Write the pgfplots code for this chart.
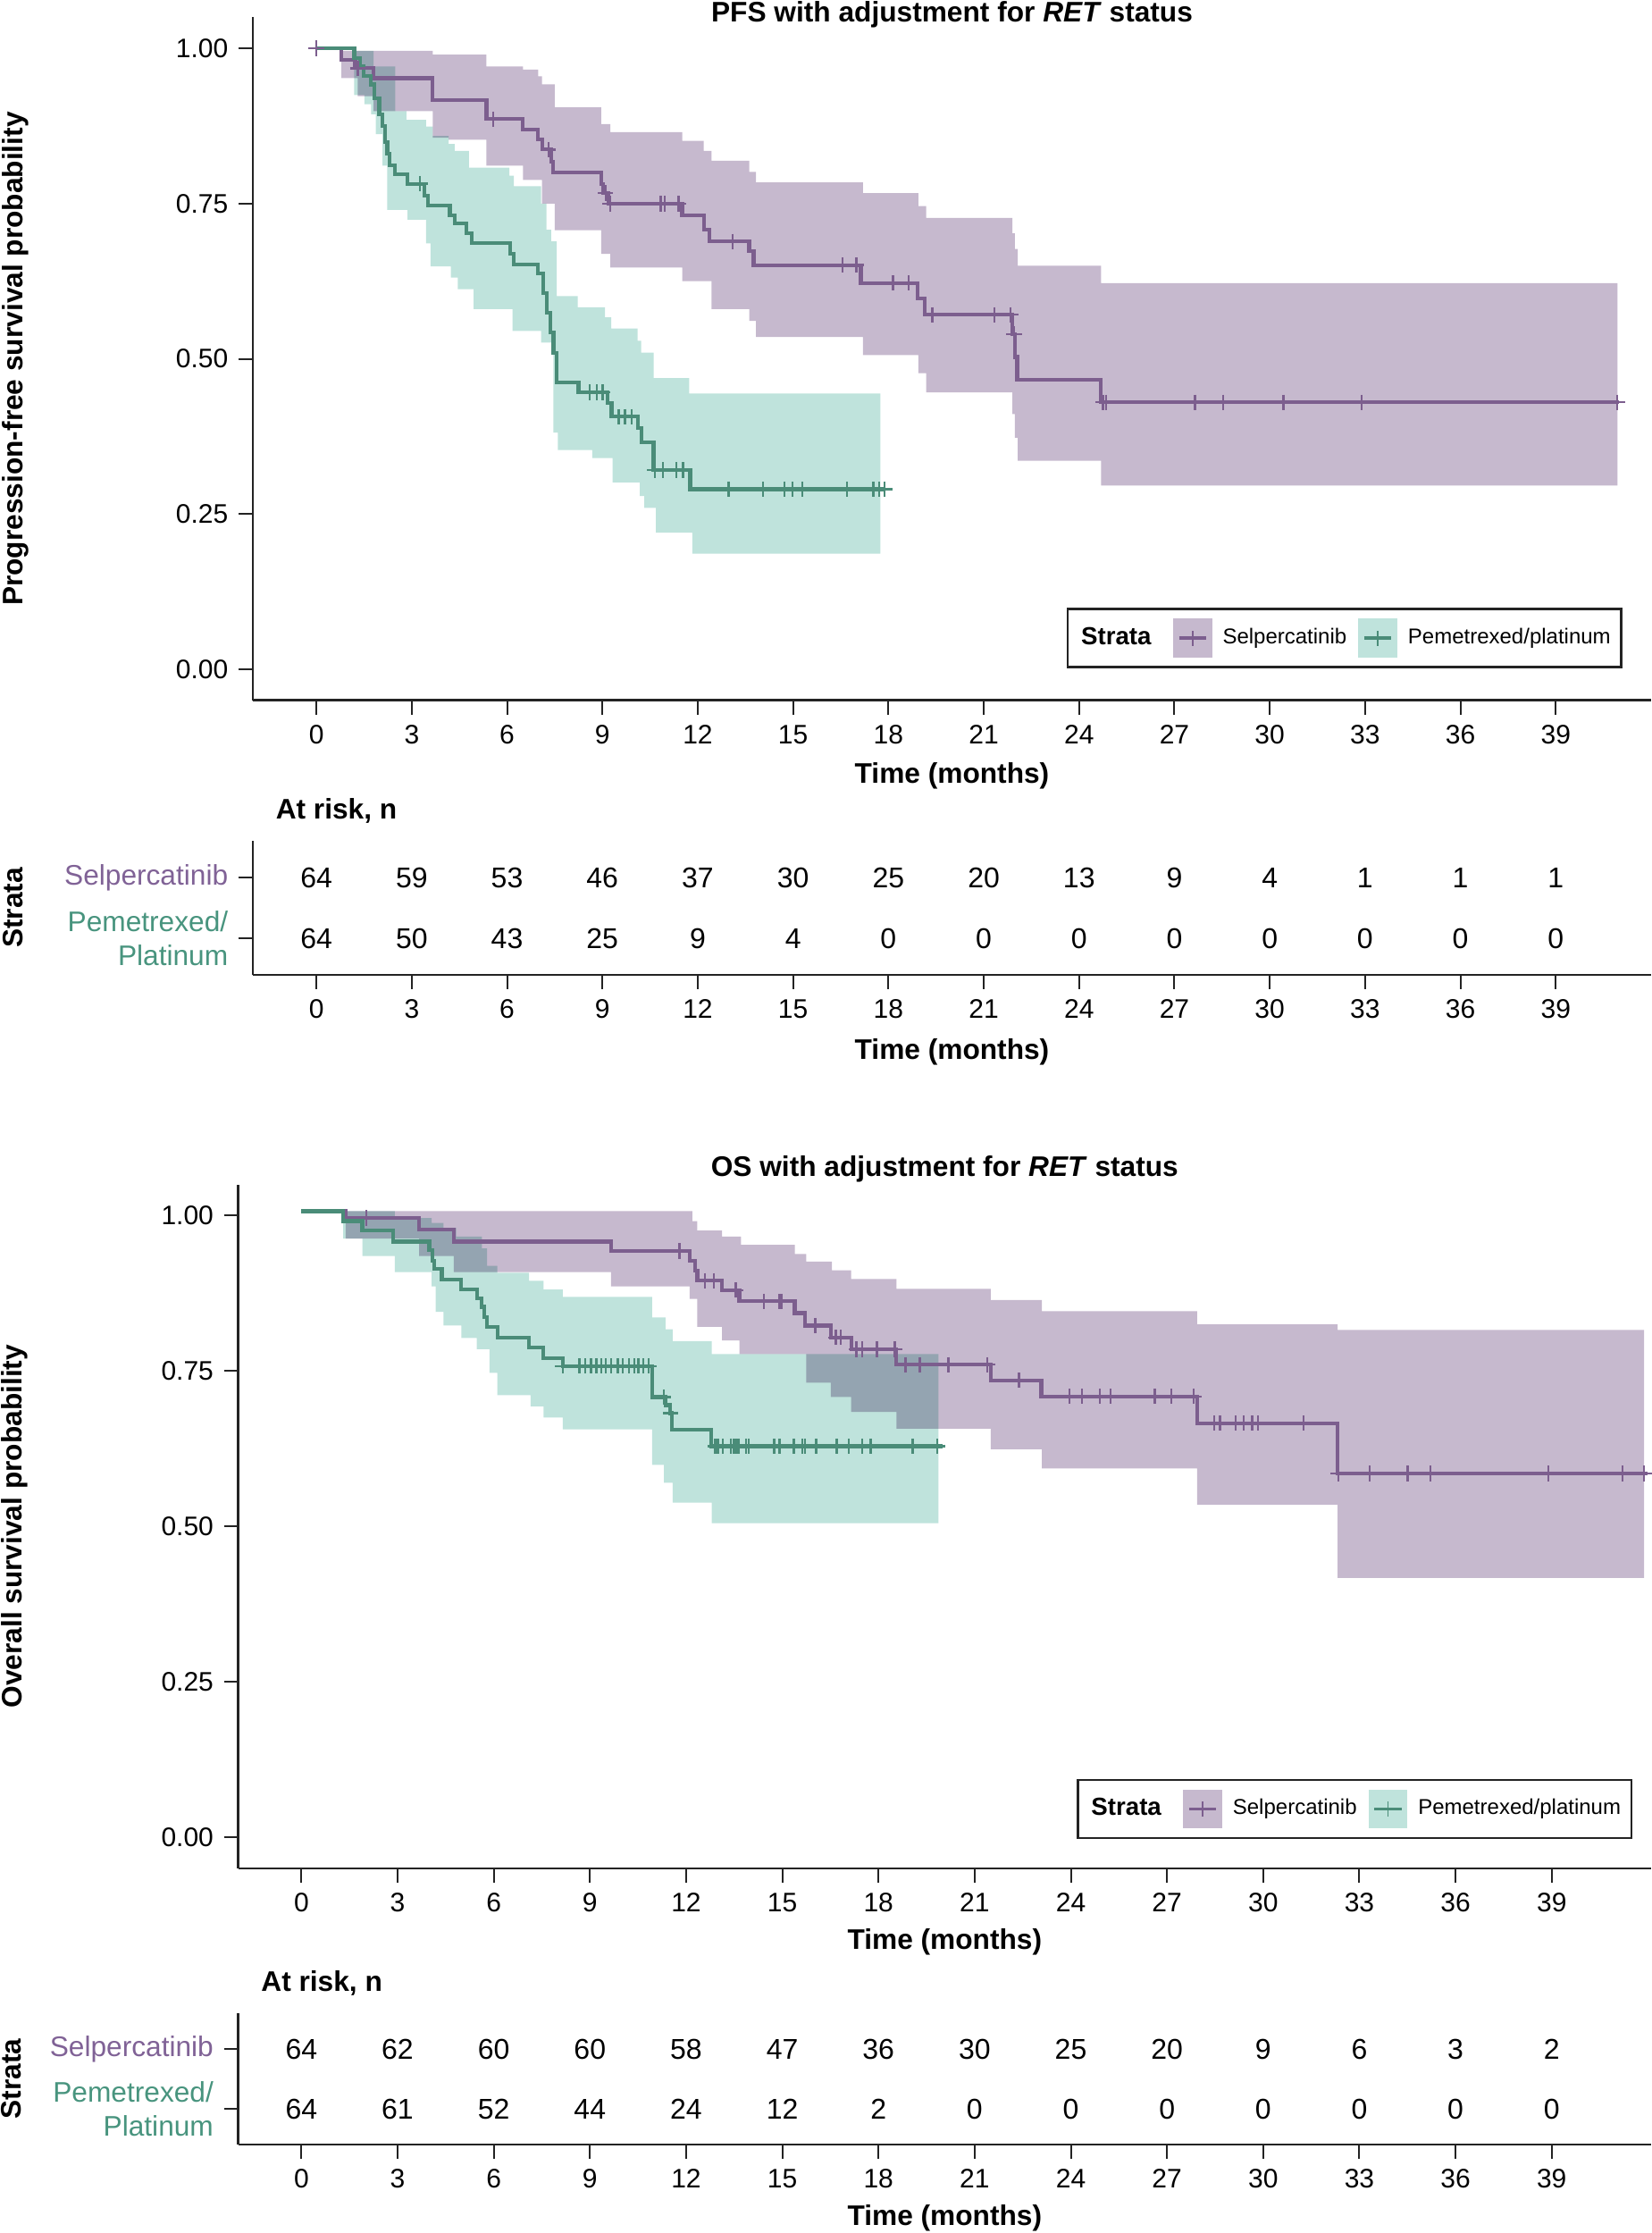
\documentclass[border=0pt]{standalone}
\usepackage{fontspec}
\setmainfont{Liberation Sans}
\usepackage{pgfplots}
\usepackage{pgfplotstable}
\pgfplotsset{compat=1.18}
\usepgfplotslibrary{fillbetween}

\definecolor{purpline}{RGB}{124,94,142}
\definecolor{tealline}{RGB}{74,140,120}
\definecolor{purpband}{RGB}{198,185,206}
\definecolor{tealband}{RGB}{191,227,220}
\definecolor{purptext}{RGB}{128,98,150}
\definecolor{tealtext}{RGB}{72,148,126}
\definecolor{axisgray}{RGB}{35,35,35}

\newcommand{\tickfont}{\fontsize{9}{10.8}\selectfont}
\newcommand{\labfont}{\bfseries\fontsize{9.5}{11.4}\selectfont}
\newcommand{\regfont}{\fontsize{9.5}{11.4}\selectfont}
\newcommand{\riskfont}{\fontsize{9.6}{11.4}\selectfont}

% ---------------- PFS data ----------------
\pgfplotstableread{
t S
0 1.0
0.79 0.982
1.22 0.968
1.80 0.952
3.66 0.917
5.35 0.886
6.50 0.869
6.98 0.853
7.10 0.837
7.39 0.817
7.45 0.800
8.96 0.782
9.03 0.767
9.18 0.750
11.51 0.731
12.19 0.708
12.37 0.689
13.62 0.673
13.76 0.651
17.13 0.622
18.92 0.597
19.14 0.571
21.90 0.540
21.98 0.503
22.05 0.466
24.69 0.430
41.0 0.430
}\pfsSel

\pgfplotstableread{
t S
0 1.0
1.30 0.968
5.57 0.886
7.30 0.837
9.10 0.767
9.25 0.750
10.83 0.750
10.97 0.750
11.40 0.750
13.09 0.689
16.56 0.651
16.99 0.651
18.14 0.622
18.63 0.622
19.38 0.571
21.34 0.571
21.84 0.571
21.95 0.540
24.75 0.430
24.85 0.430
27.65 0.430
28.53 0.430
30.43 0.430
32.90 0.430
40.94 0.430
}\pfsSelC

\pgfplotstableread{
t up lo
0.79 0.996 0.952
1.30 0.996 0.923
1.80 0.996 0.899
3.66 0.990 0.856
4.16 0.990 0.853
5.35 0.971 0.811
6.50 0.966 0.788
6.98 0.955 0.788
7.10 0.942 0.750
7.50 0.905 0.707
8.96 0.878 0.669
9.25 0.865 0.647
11.51 0.851 0.625
12.19 0.835 0.625
12.43 0.819 0.580
13.62 0.801 0.561
13.83 0.784 0.535
17.20 0.767 0.506
18.94 0.746 0.477
19.19 0.727 0.446
21.90 0.702 0.411
21.98 0.677 0.373
22.07 0.650 0.336
24.69 0.622 0.296
40.94 0.622 0.296
}\pfsSelB

\pgfplotstableread{
t S
0 1.0
1.19 0.984
1.37 0.971
1.48 0.955
1.72 0.942
1.83 0.920
1.98 0.894
2.08 0.875
2.15 0.849
2.23 0.830
2.30 0.812
2.48 0.797
2.87 0.782
3.40 0.763
3.52 0.747
4.20 0.731
4.35 0.718
4.71 0.702
4.88 0.686
6.10 0.669
6.21 0.652
6.98 0.638
7.13 0.606
7.24 0.574
7.36 0.542
7.46 0.510
7.56 0.462
8.25 0.446
9.15 0.429
9.29 0.407
10.11 0.388
10.22 0.365
10.61 0.321
11.76 0.290
17.88 0.290
}\pfsPem

\pgfplotstableread{
t S
3.26 0.782
8.60 0.446
8.82 0.446
9.01 0.446
9.51 0.407
9.71 0.407
9.92 0.407
10.65 0.321
10.90 0.321
11.33 0.321
11.54 0.321
12.97 0.290
14.05 0.290
14.72 0.290
14.98 0.290
15.30 0.290
16.70 0.290
17.53 0.290
17.70 0.290
17.88 0.290
}\pfsPemC

\pgfplotstableread{
t up lo
1.19 0.996 0.925
1.51 0.996 0.910
1.72 0.996 0.894
1.80 0.971 0.894
1.87 0.971 0.862
2.08 0.971 0.811
2.23 0.971 0.740
2.48 0.899 0.740
2.83 0.885 0.740
2.87 0.885 0.724
3.45 0.874 0.686
3.59 0.874 0.649
3.66 0.859 0.649
4.16 0.846 0.649
4.23 0.846 0.631
4.35 0.835 0.631
4.45 0.835 0.612
4.80 0.808 0.612
4.95 0.808 0.580
6.07 0.795 0.580
6.17 0.795 0.545
6.21 0.778 0.545
7.07 0.750 0.526
7.24 0.708 0.526
7.39 0.689 0.526
7.46 0.689 0.381
7.56 0.601 0.381
7.60 0.601 0.353
8.22 0.583 0.353
8.68 0.583 0.340
9.08 0.567 0.340
9.28 0.549 0.340
9.32 0.549 0.301
10.11 0.529 0.301
10.18 0.529 0.279
10.22 0.510 0.279
10.32 0.510 0.260
10.61 0.469 0.260
10.68 0.469 0.220
11.73 0.444 0.220
11.83 0.444 0.186
17.75 0.444 0.186
}\pfsPemB

% ---------------- OS data ----------------
\pgfplotstableread{
t S
0 1.007
1.38 0.996
3.67 0.977
4.75 0.958
9.66 0.943
12.11 0.927
12.27 0.911
12.35 0.895
13.12 0.880
13.66 0.862
15.39 0.843
15.71 0.823
16.51 0.804
17.15 0.785
18.56 0.760
21.50 0.735
23.08 0.709
27.94 0.666
32.32 0.585
42.0 0.585
}\osSel

\pgfplotstableread{
t S
2.03 0.996
11.79 0.943
12.59 0.895
12.86 0.895
13.55 0.880
14.43 0.862
14.91 0.862
14.99 0.862
16.03 0.823
16.67 0.804
16.83 0.804
17.31 0.785
17.50 0.785
17.95 0.785
18.51 0.785
18.84 0.760
19.29 0.760
20.18 0.760
21.40 0.760
22.38 0.735
23.96 0.709
24.35 0.709
24.90 0.709
25.24 0.709
26.62 0.709
27.13 0.709
27.84 0.709
28.48 0.666
28.65 0.666
29.15 0.666
29.40 0.666
29.66 0.666
29.83 0.666
31.26 0.666
32.35 0.585
33.33 0.585
34.51 0.585
35.22 0.585
38.89 0.585
41.20 0.585
41.88 0.585
}\osSelC

\pgfplotstableread{
t up lo
1.38 1.007 0.963
3.67 1.007 0.935
4.75 1.007 0.909
9.66 1.007 0.886
12.11 1.007 0.866
12.19 0.991 0.866
12.35 0.976 0.821
13.12 0.966 0.799
13.66 0.966 0.777
13.71 0.953 0.777
15.39 0.938 0.777
15.75 0.926 0.731
16.51 0.926 0.708
16.55 0.912 0.708
17.15 0.898 0.684
18.56 0.882 0.657
21.50 0.864 0.624
23.10 0.846 0.593
27.94 0.825 0.535
32.32 0.816 0.417
41.88 0.816 0.417
}\osSelB

\pgfplotstableread{
t S
0 1.007
1.30 0.991
1.90 0.976
2.86 0.958
3.99 0.944
4.08 0.927
4.15 0.914
4.38 0.897
4.98 0.881
5.47 0.867
5.63 0.853
5.71 0.837
5.78 0.821
6.11 0.803
7.10 0.788
7.55 0.771
8.15 0.758
10.94 0.708
11.36 0.695
11.50 0.682
11.55 0.655
12.79 0.629
19.99 0.629
}\osPem

\pgfplotstableread{
t S
8.15 0.758
8.67 0.758
8.85 0.758
9.03 0.758
9.20 0.758
9.36 0.758
9.50 0.758
9.66 0.758
9.87 0.758
10.03 0.758
10.22 0.758
10.38 0.758
10.51 0.758
10.67 0.758
10.83 0.758
11.30 0.708
11.52 0.682
12.91 0.629
12.99 0.629
13.15 0.629
13.39 0.629
13.47 0.629
13.55 0.629
13.63 0.629
13.87 0.629
13.95 0.629
14.75 0.629
14.91 0.629
15.36 0.629
15.63 0.629
15.71 0.629
16.06 0.629
16.70 0.629
17.07 0.629
17.50 0.629
17.76 0.629
19.07 0.629
19.84 0.629
}\osPemC

\pgfplotstableread{
t up lo
1.30 1.007 0.963
1.90 1.007 0.935
2.91 0.996 0.909
4.06 0.988 0.886
4.19 0.988 0.845
4.43 0.980 0.823
4.83 0.966 0.823
4.99 0.966 0.803
5.47 0.966 0.785
5.63 0.947 0.785
5.79 0.919 0.785
5.87 0.919 0.747
6.11 0.908 0.711
7.10 0.895 0.711
7.15 0.895 0.693
7.55 0.881 0.675
8.15 0.869 0.656
10.94 0.836 0.599
11.31 0.836 0.570
11.36 0.817 0.570
11.58 0.798 0.538
12.80 0.777 0.505
19.87 0.777 0.505
}\osPemB

% ---------------- At risk ----------------
\pgfplotstableread{
t y n
0 2 64
3 2 59
6 2 53
9 2 46
12 2 37
15 2 30
18 2 25
21 2 20
24 2 13
27 2 9
30 2 4
33 2 1
36 2 1
39 2 1
0 1 64
3 1 50
6 1 43
9 1 25
12 1 9
15 1 4
18 1 0
21 1 0
24 1 0
27 1 0
30 1 0
33 1 0
36 1 0
39 1 0
}\pfsRisk

\pgfplotstableread{
t y n
0 2 64
3 2 62
6 2 60
9 2 60
12 2 58
15 2 47
18 2 36
21 2 30
24 2 25
27 2 20
30 2 9
33 2 6
36 2 3
39 2 2
0 1 64
3 1 61
6 1 52
9 1 44
12 1 24
15 1 12
18 1 2
21 1 0
24 1 0
27 1 0
30 1 0
33 1 0
36 1 0
39 1 0
}\osRisk

\pgfplotsset{
  kbase/.style={
    scale only axis,
    axis x line=bottom, axis y line=left,
    axis line style={-, line width=0.75pt, draw=axisgray},
    tick align=outside,
    major tick length=4.8pt,
    tick style={line width=0.6pt, draw=axisgray},
    xtick={0,3,...,39},
    tick label style={font=\tickfont, text=black},
    /pgf/number format/assume math mode=true,
    xlabel={Time (months)},
    xlabel style={font=\labfont},
    ylabel style={font=\labfont},
    clip=false,
  },
  kcurve/.style={const plot, line width=1.25pt, forget plot},
  kcens/.style={only marks, mark=+, mark size=2.6pt, mark options={line width=0.7pt}, forget plot},
  kbandpath/.style={const plot, draw=none, forget plot},
  krisk/.style={only marks, mark=text, text mark={},
    nodes near coords, nodes near coords align=center, point meta=explicit symbolic,
    every node near coord/.append style={font=\riskfont, text=black, anchor=center, opacity=1, text opacity=1}, forget plot},
  klegend/.style={
    legend columns=-1,
    legend style={at={(axis description cs:#1)}, anchor=south east, draw=axisgray, line width=0.8pt,
      fill=white, inner xsep=0.9pt, inner ysep=3.2pt, font=\fontsize{7.2}{8.6}\selectfont,
      nodes={inner sep=0pt},
      /tikz/every odd column/.append style={column sep=3.6pt},
      /tikz/every even column/.append style={column sep=3.9pt}},
  },
}

\newcommand{\addstratalegend}{%
  \addlegendimage{empty legend}
  \addlegendentry{{\bfseries\fontsize{8.3}{10}\selectfont Strata}\kern3.4pt}
  \addlegendimage{legend image code/.code={
    \fill[purpband] (0pt,-6.15pt) rectangle (12.3pt,6.15pt);
    \draw[purpline, line width=1.1pt] (1.6pt,0pt) -- (10.7pt,0pt);
    \draw[purpline, line width=0.5pt] (6.15pt,-2.6pt) -- (6.15pt,2.6pt);}}
  \addlegendentry{Selpercatinib}
  \addlegendimage{legend image code/.code={
    \fill[tealband] (0pt,-6.15pt) rectangle (12.3pt,6.15pt);
    \draw[tealline, line width=1.1pt] (1.6pt,0pt) -- (10.7pt,0pt);
    \draw[tealline, line width=0.5pt] (6.15pt,-2.6pt) -- (6.15pt,2.6pt);}}
  \addlegendentry{Pemetrexed/platinum\kern2.7pt}
}

\begin{document}
\begin{tikzpicture}

% ================= PFS main =================
\begin{axis}[kbase, at={(84.9pt,-5.82pt)}, anchor=north west,
  width=469.5pt, height=229.29pt,
  xmin=-2, xmax=42, ymin=-0.05, ymax=1.05,
  ytick={0,0.25,0.5,0.75,1}, yticklabels={0.00,0.25,0.50,0.75,1.00},
  title={PFS with adjustment for \textit{RET} status},
  title style={font=\labfont, at={(axis description cs:0.5,1)}, anchor=base, yshift=-7.4pt},
  xlabel style={at={(axis description cs:0.5,0)}, anchor=center, yshift=-25.3pt},
  ylabel={Progression-free survival probability},
  ylabel style={at={(axis description cs:-0.1697,0.5)}, anchor=center},
  klegend={0.9796,0.0467}]
\addplot[kbandpath, name path=psu] table[x=t,y=up]{\pfsSelB};
\addplot[kbandpath, name path=psl] table[x=t,y=lo]{\pfsSelB};
\addplot[fill=purpband, draw=none, blend mode=multiply, forget plot] fill between[of=psu and psl];
\addplot[kbandpath, name path=ppu] table[x=t,y=up]{\pfsPemB};
\addplot[kbandpath, name path=ppl] table[x=t,y=lo]{\pfsPemB};
\addplot[fill=tealband, draw=none, blend mode=multiply, forget plot] fill between[of=ppu and ppl];
\addplot[kcurve, purpline] table[x=t,y=S]{\pfsSel};
\addplot[kcurve, tealline] table[x=t,y=S]{\pfsPem};
\addplot[kcens, purpline] table[x=t,y=S]{\pfsSelC};
\addplot[kcens, tealline] table[x=t,y=S]{\pfsPemC};
\addstratalegend
\end{axis}

% ================= PFS at risk =================
\begin{axis}[kbase, at={(84.9pt,-282.36pt)}, anchor=north west,
  width=469.5pt, height=44.88pt,
  xmin=-2, xmax=42, ymin=0.4, ymax=2.6,
  ytick={1,2},
  yticklabels={{\textcolor{tealtext}{Pemetrexed/}\\\textcolor{tealtext}{Platinum}},{\textcolor{purptext}{Selpercatinib}}},
  yticklabel style={align=right, font=\regfont},
  title={At risk, n},
  title style={font=\labfont, at={(axis description cs:0,1)}, anchor=base west, xshift=4.2pt, yshift=1.35pt},
  xlabel style={at={(axis description cs:0.5,0)}, anchor=center, yshift=-25.9pt},
  ylabel={Strata},
  ylabel style={at={(axis description cs:-0.1714,0.5)}, anchor=center}]
\addplot[krisk] table[x=t,y=y,meta=n]{\pfsRisk};
\end{axis}

% ================= OS main =================
\begin{axis}[kbase, at={(80.0pt,-397.65pt)}, anchor=north west,
  width=474.39pt, height=229.59pt,
  xmin=-1.97, xmax=42.1, ymin=-0.05, ymax=1.05,
  ytick={0,0.25,0.5,0.75,1}, yticklabels={0.00,0.25,0.50,0.75,1.00},
  title={OS with adjustment for \textit{RET} status},
  title style={font=\labfont, at={(axis description cs:0.5,1)}, anchor=base, yshift=-3.15pt},
  xlabel style={at={(axis description cs:0.5,0)}, anchor=center, yshift=-24.7pt},
  ylabel={Overall survival probability},
  ylabel style={at={(axis description cs:-0.1581,0.5)}, anchor=center},
  klegend={0.987,0.0425}]
\addplot[kbandpath, name path=osu] table[x=t,y=up]{\osSelB};
\addplot[kbandpath, name path=osl] table[x=t,y=lo]{\osSelB};
\addplot[fill=purpband, draw=none, blend mode=multiply, forget plot] fill between[of=osu and osl];
\addplot[kbandpath, name path=opu] table[x=t,y=up]{\osPemB};
\addplot[kbandpath, name path=opl] table[x=t,y=lo]{\osPemB};
\addplot[fill=tealband, draw=none, blend mode=multiply, forget plot] fill between[of=opu and opl];
\addplot[kcurve, purpline] table[x=t,y=S]{\osSel};
\addplot[kcurve, tealline] table[x=t,y=S]{\osPem};
\addplot[kcens, purpline] table[x=t,y=S]{\osSelC};
\addplot[kcens, tealline] table[x=t,y=S]{\osPemC};
\addstratalegend
\end{axis}

% ================= OS at risk =================
\begin{axis}[kbase, at={(80.0pt,-675.84pt)}, anchor=north west,
  width=474.39pt, height=44.22pt,
  xmin=-1.97, xmax=42.1, ymin=0.4, ymax=2.6,
  ytick={1,2},
  yticklabels={{\textcolor{tealtext}{Pemetrexed/}\\\textcolor{tealtext}{Platinum}},{\textcolor{purptext}{Selpercatinib}}},
  yticklabel style={align=right, font=\regfont},
  title={At risk, n},
  title style={font=\labfont, at={(axis description cs:0,1)}, anchor=base west, xshift=4.2pt, yshift=1.4pt},
  xlabel style={at={(axis description cs:0.5,0)}, anchor=center, yshift=-24.5pt},
  ylabel={Strata},
  ylabel style={at={(axis description cs:-0.1604,0.5)}, anchor=center}]
\addplot[krisk] table[x=t,y=y,meta=n]{\osRisk};
\end{axis}

\pgfresetboundingbox
\path[use as bounding box] (0,0) rectangle (554.4pt,-749.7pt);
\end{tikzpicture}
\end{document}
